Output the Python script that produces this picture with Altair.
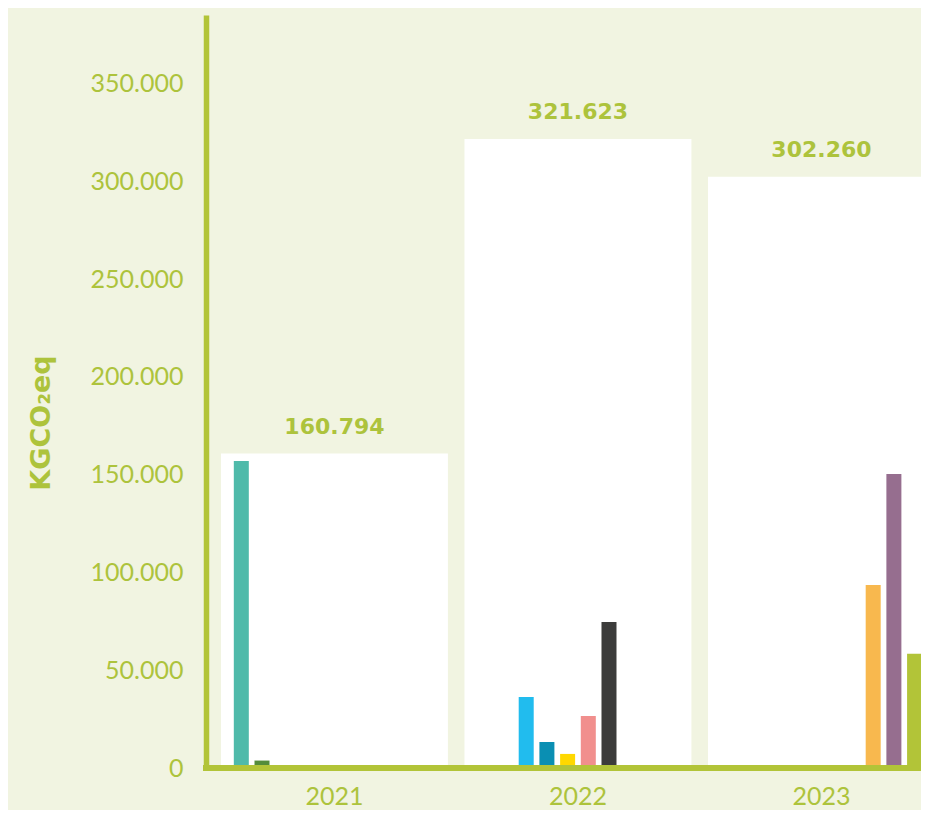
import altair as alt
import pandas as pd

# ---- data ----
years = ["2021", "2022", "2023"]
totals = [160794, 321623, 302260]

categories = ["Cat 1", "Cat 2", "Cat 3", "Cat 4", "Cat 5",
              "Cat 6", "Cat 7", "Cat 8", "Cat 9", "Cat 10"]
cat_years = ["2021", "2021", "2022", "2022", "2022",
             "2022", "2022", "2023", "2023", "2023"]
cat_values = [157000, 3800, 36300, 13300, 7200,
              26600, 74600, 93600, 150300, 58360]
cat_colors = ["#4fbaaa", "#548c3b", "#21bcee", "#0a8fb3", "#ffd800",
              "#f18f8d", "#3c3c3b", "#f8b84e", "#966e8f", "#b2c438"]
y_ticks = [0, 50000, 100000, 150000, 200000, 250000, 300000, 350000]

bg = "#f1f4e1"
green = "#adc33c"
line_green = "#b2c438"

totals_df = pd.DataFrame({"year": years, "total": totals})
cats_df = pd.DataFrame({"year": cat_years, "category": categories, "value": cat_values})
zero_df = pd.DataFrame({"v": [0]})

x_scale = alt.Scale(domain=years, range=[6.7, 737.2], paddingInner=0.068, paddingOuter=0.034)
y_scale = alt.Scale(domain=[0, 385000], nice=False)

fmt = "replace(format(datum.value, ','), ',', '.')"

x_enc = alt.X(
    "year:N", scale=x_scale,
    axis=alt.Axis(title=None, domain=False, ticks=False, labelAngle=0,
                  labelFont="Lato", labelFontSize=25, labelFontWeight="normal",
                  labelColor=green, labelPadding=16),
)

white = alt.Chart(totals_df).mark_bar(color="white", clip=True).encode(
    x=x_enc,
    y=alt.Y("total:Q", scale=y_scale,
            axis=alt.Axis(title=None, values=y_ticks, grid=False, ticks=False,
                          domainColor=line_green, domainWidth=5.5,
                          labelFont="Lato", labelFontSize=25, labelFontWeight="normal",
                          labelColor=green, labelPadding=23, labelExpr=fmt)),
)

labels = alt.Chart(totals_df).transform_calculate(
    lab="replace(format(datum.total, ','), ',', '.')"
).mark_text(dy=-20, baseline="alphabetic", font="DejaVu Sans", fontWeight="bold",
            fontSize=22, color=green, clip=True).encode(
    x=alt.X("year:N", scale=x_scale),
    y=alt.Y("total:Q", scale=y_scale),
    text="lab:N",
)

bars = alt.Chart(cats_df).mark_bar(clip=True).encode(
    x=alt.X("year:N", scale=x_scale),
    xOffset=alt.XOffset("category:N",
                        scale=alt.Scale(domain=categories, paddingInner=0.275, paddingOuter=0.62)),
    y=alt.Y("value:Q", scale=y_scale),
    color=alt.Color("category:N", scale=alt.Scale(domain=categories, range=cat_colors), legend=None),
)

rule = alt.Chart(zero_df).mark_rule(color=line_green, strokeWidth=6).encode(
    y=alt.Y("v:Q", scale=y_scale),
    x=alt.value(-3),
    x2=alt.value(715),
)

ytitle = alt.Chart(zero_df).mark_text(
    text="KGCO₂eq", angle=270, align="center", baseline="alphabetic",
    font="DejaVu Sans", fontWeight="bold", fontSize=27, color=green,
).encode(x=alt.value(-156), y=alt.value(408))

chart = alt.layer(white, labels, bars, rule, ytitle).properties(
    width=715, height=753, background=bg,
    padding={"left": 198, "top": 7, "right": 0, "bottom": 42},
    autosize=alt.AutoSizeParams(type="none"),
).configure_view(stroke=None)

chart.save("out.html", embed_options={"renderer": "svg", "actions": False})
